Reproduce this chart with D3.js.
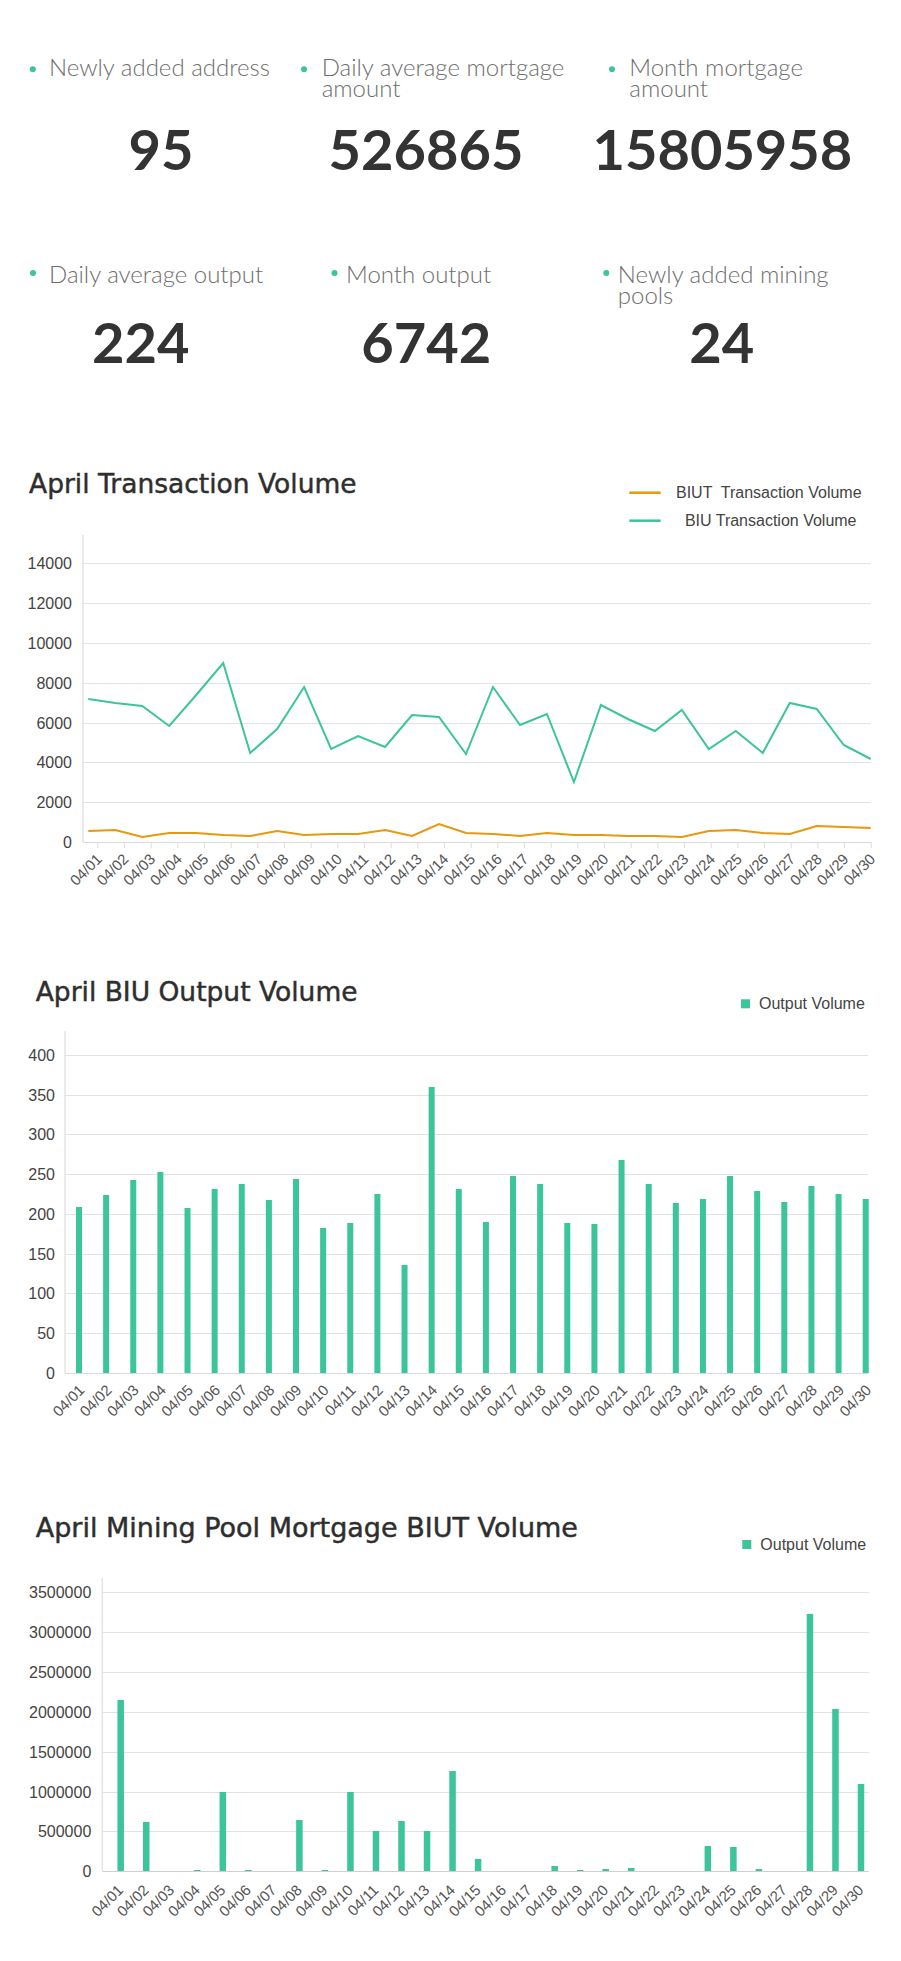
<!DOCTYPE html>
<html>
<head>
<meta charset="utf-8">
<script src="https://cdn.jsdelivr.net/npm/d3@7"></script>
<style>
body { margin: 0; background: #fff; }
svg { display: block; }
</style>
</head>
<body>
<svg id="page" width="901" height="1961"></svg>
<script>
var days = ["04/01", "04/02", "04/03", "04/04", "04/05", "04/06", "04/07", "04/08", "04/09", "04/10",
    "04/11", "04/12", "04/13", "04/14", "04/15", "04/16", "04/17", "04/18", "04/19", "04/20",
    "04/21", "04/22", "04/23", "04/24", "04/25", "04/26", "04/27", "04/28", "04/29", "04/30"]

var kpiLabels = [["Newly added address"], ["Daily average mortgage", "amount"], ["Month mortgage", "amount"],
    ["Daily average output"], ["Month output"], ["Newly added mining", "pools"]]
var kpiValues = ["95", "526865", "15805958", "224", "6742", "24"]

var biuVolume = [7200, 7000, 6850, 5830, 7400, 9000, 4500, 5700, 7800, 4700,
    5330, 4800, 6400, 6300, 4420, 7780, 5880, 6430, 3000, 6900,
    6200, 5580, 6630, 4700, 5600, 4470, 6980, 6680, 4860, 4160]
var biutVolume = [570, 620, 280, 450, 450, 350, 320, 550, 380, 420,
    400, 620, 320, 920, 450, 400, 320, 480, 380, 350,
    300, 330, 270, 580, 630, 480, 430, 830, 770, 720]
var volumeTicks = [0, 2000, 4000, 6000, 8000, 10000, 12000, 14000]

var outputVolume = [209, 223, 243, 252, 207, 231, 238, 217, 244, 182,
    188, 225, 136, 359, 231, 190, 247, 238, 188, 187,
    268, 237, 214, 218, 247, 229, 215, 235, 225, 219]
var outputTicks = [0, 50, 100, 150, 200, 250, 300, 350, 400]

var mortgageVolume = [2150000, 614000, 0, 20000, 1000000, 12000, 0, 643000, 20000, 1000000,
    500000, 627000, 500000, 1260000, 150000, 10000, 0, 62000, 22000, 33000,
    41000, 10000, 0, 313000, 309000, 33000, 10000, 3230000, 2035000, 1090000]
var mortgageTicks = [0, 500000, 1000000, 1500000, 2000000, 2500000, 3000000, 3500000]

var green = "#3cc49a"
var orange = "#e8980e"
var axisFont = "'Liberation Sans', Arial, sans-serif"
var titleFont = "'DejaVu Sans', sans-serif"
var kpiFont = "Lato, 'Noto Sans', sans-serif"

var svg = d3.select("#page")

// summary numbers
var kpiLayout = [
    {dot: 32.8, dotY: 69.3, tx: 49, base: 76, cx: 161, vBase: 170},
    {dot: 304, dotY: 69.3, tx: 321.7, base: 76, cx: 426, vBase: 170},
    {dot: 612, dotY: 69.3, tx: 629.3, base: 76, cx: 722.4, vBase: 170},
    {dot: 33, dotY: 273, tx: 49, base: 282.7, cx: 140.8, vBase: 362.7},
    {dot: 334.5, dotY: 273, tx: 346, base: 282.7, cx: 426.2, vBase: 362.7},
    {dot: 606.3, dotY: 273, tx: 617.8, base: 282.7, cx: 721.8, vBase: 362.7}
]
var kpi = svg.append("g").selectAll("g")
    .data(kpiLayout)
    .join("g")
kpi.append("circle")
    .attr("cx", function(d) { return d.dot })
    .attr("cy", function(d) { return d.dotY })
    .attr("r", 3)
    .attr("fill", green)
kpi.append("text")
    .attr("font-family", kpiFont)
    .attr("font-weight", 300)
    .attr("font-size", 24)
    .attr("fill", "#6e6e6e")
    .each(function(d, i) {
        var t = d3.select(this)
        kpiLabels[i].forEach(function(line, j) {
            t.append("tspan")
                .attr("x", d.tx)
                .attr("y", d.base + j * 21)
                .text(line)
        })
    })
kpi.append("text")
    .attr("x", function(d) { return d.cx })
    .attr("y", function(d) { return d.vBase })
    .attr("text-anchor", "middle")
    .attr("font-family", kpiFont)
    .attr("font-weight", "bold")
    .attr("font-size", 56)
    .attr("fill", "#333")
    .text(function(d, i) { return kpiValues[i] })

function title(g, text, x, y, size) {
    g.append("text")
        .attr("x", x)
        .attr("y", y)
        .attr("font-family", titleFont)
        .attr("font-size", size)
        .attr("fill", "#2e2e2e")
        .attr("stroke", "#2e2e2e")
        .attr("stroke-width", 0.45)
        .text(text)
}

function frame(g, opt) {
    var y = opt.y
    var grid = g.append("g")
        .attr("transform", "translate(" + opt.left + ",0)")
        .call(d3.axisLeft(y)
            .tickValues(opt.yTicks)
            .tickSize(-(opt.right - opt.left))
            .tickPadding(opt.pad)
            .tickFormat(d3.format("d")))
    grid.select(".domain").remove()
    grid.selectAll(".tick line")
        .attr("stroke", function(d) { return d === 0 ? opt.baseColor : "#e2e2e2" })
    grid.selectAll(".tick text")
        .attr("fill", "#444")
        .attr("font-family", axisFont)
        .attr("font-size", 16)
    g.append("line")
        .attr("x1", opt.left).attr("x2", opt.left)
        .attr("y1", y(0)).attr("y2", y(y.domain()[1]))
        .attr("stroke", "#e4e4e4")
        .attr("stroke-width", 1.5)
    var xa = g.append("g")
        .attr("transform", "translate(0," + y(0) + ")")
        .call(d3.axisBottom(opt.x).tickSize(opt.tick).tickSizeOuter(0))
    xa.select(".domain").remove()
    xa.selectAll(".tick line").attr("stroke", "#dcdcdc")
    xa.selectAll(".tick text")
        .attr("y", null)
        .attr("dy", null)
        .attr("text-anchor", "end")
        .attr("transform", "translate(" + opt.dx + "," + opt.dy + ") rotate(-45)")
        .attr("fill", "#555")
        .attr("font-family", axisFont)
        .attr("font-size", 15)
}

// April Transaction Volume
var c1 = svg.append("g")
var y1 = d3.scaleLinear().domain([0, 15400]).range([842.3, 535]).interpolate(d3.interpolateRound)
var x1 = d3.scalePoint().domain(days).range([88.3, 870.7])
var x1Ticks = d3.scalePoint().domain(days).range([97.3, 870.7])
title(c1, "April Transaction Volume", 29, 492.7, 26.5)
frame(c1, {y: y1, x: x1Ticks, left: 83, right: 870.7, yTicks: volumeTicks, pad: 11,
    baseColor: "#d9d9d9", tick: 6, dx: 5, dy: 18})

var series1 = [{values: biutVolume, color: orange, name: "BIUT  Transaction Volume"},
    {values: biuVolume, color: green, name: "  BIU Transaction Volume"}]
var line1 = d3.line()
    .x(function(d, i) { return x1(days[i]) })
    .y(function(d) { return y1(d) })
c1.selectAll("path.series")
    .data(series1)
    .join("path")
    .attr("class", "series")
    .attr("d", function(d) { return line1(d.values) })
    .attr("fill", "none")
    .attr("stroke", function(d) { return d.color })
    .attr("stroke-width", 2)

var leg1 = c1.selectAll("g.legend")
    .data(series1)
    .join("g")
    .attr("class", "legend")
    .attr("transform", function(d, i) { return "translate(629.3," + (492.7 + i * 28) + ")" })
leg1.append("line")
    .attr("x1", 0).attr("x2", 31.4)
    .attr("stroke", function(d) { return d.color })
    .attr("stroke-width", 2.5)
leg1.append("text")
    .attr("x", 46.7)
    .attr("y", 5.5)
    .attr("font-family", axisFont)
    .attr("font-size", 16)
    .attr("fill", "#444")
    .style("white-space", "pre")
    .text(function(d) { return d.name })

function legendSquare(g, x, y, label) {
    g.append("rect")
        .attr("x", x).attr("y", y)
        .attr("width", 9).attr("height", 9)
        .attr("fill", green)
    g.append("text")
        .attr("x", x + 18)
        .attr("y", y + 10)
        .attr("font-family", axisFont)
        .attr("font-size", 16)
        .attr("fill", "#444")
        .text(label)
}

// April BIU Output Volume
var c2 = svg.append("g")
var y2 = d3.scaleLinear().domain([0, 430]).range([1372.7, 1031]).interpolate(d3.interpolateRound)
var x2 = d3.scalePoint().domain(days).range([79, 865.7])
title(c2, "April BIU Output Volume", 35.7, 1000.7, 26.5)
frame(c2, {y: y2, x: x2, left: 65, right: 868.3, yTicks: outputTicks, pad: 10,
    baseColor: "#dadada", tick: 0, dx: 6, dy: 18})
c2.selectAll("rect.bar")
    .data(outputVolume)
    .join("rect")
    .attr("class", "bar")
    .attr("x", function(d, i) { return x2(days[i]) - 3 })
    .attr("width", 6)
    .attr("y", function(d) { return y2(d) })
    .attr("height", function(d) { return y2(0) - y2(d) })
    .attr("fill", green)
legendSquare(c2, 741, 999.3, "Output Volume")

// April Mining Pool Mortgage BIUT Volume
var c3 = svg.append("g")
var y3 = d3.scaleLinear().domain([0, 3675000]).range([1871.3, 1578.3]).interpolate(d3.interpolateRound)
var x3 = d3.scalePoint().domain(days).range([120.7, 861])
title(c3, "April Mining Pool Mortgage BIUT Volume", 35.7, 1536.7, 27)
frame(c3, {y: y3, x: x3, left: 102.3, right: 868.7, yTicks: mortgageTicks, pad: 11,
    baseColor: "#cfcfcf", tick: 0, dx: 3, dy: 20})
c3.selectAll("rect.bar")
    .data(mortgageVolume)
    .join("rect")
    .attr("class", "bar")
    .attr("x", function(d, i) { return x3(days[i]) - 3.25 })
    .attr("width", 6.5)
    .attr("y", function(d) { return y3(d) })
    .attr("height", function(d) { return y3(0) - y3(d) })
    .attr("fill", green)
legendSquare(c3, 742.3, 1540, "Output Volume")
</script>
</body>
</html>
